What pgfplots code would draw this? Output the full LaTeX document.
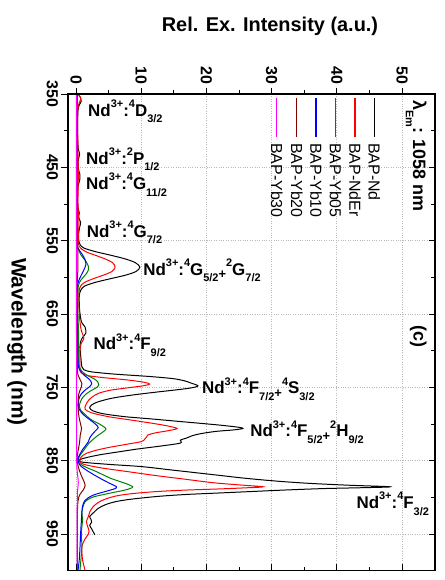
\documentclass[border=0pt]{standalone}
\usepackage{pgfplots}
\pgfplotsset{compat=1.18}
\usepackage{pgfplotstable}
\usepackage{fontspec}
\setmainfont{Liberation Sans}

\definecolor{cNd}{RGB}{0,0,0}
\definecolor{cNdEr}{RGB}{255,0,0}
\definecolor{cYbA}{RGB}{0,128,0}
\definecolor{cYbB}{RGB}{0,0,255}
\definecolor{cYbC}{RGB}{128,0,0}
\definecolor{cYbD}{RGB}{255,0,255}
\definecolor{gridgray}{RGB}{185,185,185}

% excitation spectra: wavelength (nm), relative intensity
\pgfplotstableread{
wl I
350 0.3
355 0.7
360 0.8
365 0.5
372 0.3
390 0.25
410 0.25
425 0.35
432 0.55
440 0.35
452 0.35
460 0.6
468 0.55
476 0.3
490 0.25
505 0.3
512 0.5
518 0.4
525 0.7
532 0.55
540 0.4
548 0.4
555 0.6
560 1.2
565 3.0
570 5.4
575 7.6
580 9.1
586 9.8
592 9.2
597 7.6
602 5.2
607 2.9
612 1.3
618 0.7
625 0.5
635 0.5
645 0.55
655 0.7
662 0.9
668 1.4
676 1.5
682 1.0
688 0.7
695 0.6
705 0.7
715 0.8
722 0.9
726 1.2
729 2.5
732 6
735 11
738 14.8
741 16.6
744 17.6
748 18.7
751 17.5
754 14.8
757 11.8
761 8.2
765 5.4
770 3.3
774 2.4
778 2.1
782 2.6
786 4.2
790 7.5
793 11.5
797 16.5
801 21.5
804 24.6
806 25.6
808 24.2
810 21.5
813 19.2
816 17.8
819 17.0
822 16.0
826 16.0
830 13.0
834 9.5
838 6.5
842 3.6
846 1.5
849 0.5
852 1.0
855 5
858 10
862 14
866 18
870 22
874 26
878 31
881 36
883.5 42
885.6 48.2
886.8 44
888 38
890 32
892 27
894 22
896 17
898 13.5
900 11
903 8
906 6
910 4.5
915 3.4
920 2.8
926 2.1
930 2.3
934 2.4
938 2.1
943 2.4
948 2.7
951 2.9
}\tblNd

\pgfplotstableread{
wl I
350 0.3
355 0.7
360 0.6
368 0.3
390 0.25
430 0.3
460 0.35
500 0.3
525 0.45
545 0.35
558 0.5
565 1.5
570 3.0
575 4.5
580 5.6
586 6.0
592 5.5
597 4.2
602 2.6
607 1.3
612 0.7
620 0.45
640 0.45
660 0.6
672 0.8
683 1.2
690 0.8
700 0.6
715 0.6
725 0.6
730 0.8
734 1.8
737 4.5
740 8.0
743 10.4
745.5 11.3
748 10.2
751 7.6
754 5.2
758 3.5
763 2.5
768 1.9
774 1.5
780 1.4
785 2.5
790 5
794 8
798 11
802 13.7
806 15.5
809 14.2
812 12.2
815 11.0
818 10.8
821 10.5
824 10.0
828 7.5
832 5.0
836 3.0
840 1.6
844 0.9
848 0.6
851 0.6
855 1.2
860 4
865 8
870 12
875 16.5
880 21
883 25
885.6 28.7
887 26
888.5 22
890 17
892 12.5
895 8.5
898 6.2
902 4.6
907 3.4
913 2.6
920 2.1
926 1.9
933 1.6
940 1.8
946 2.0
950 1.9
958 1.3
967 0.9
975 0.9
985 1.0
993 1.2
1000 1.4
}\tblNdEr

\pgfplotstableread{
wl I
350 0.2
400 0.2
450 0.2
500 0.2
550 0.25
560 0.3
570 0.8
578 1.5
585 1.9
590 1.9
596 1.5
603 0.8
610 0.4
620 0.3
650 0.3
680 0.4
700 0.35
715 0.4
722 0.5
728 0.9
733 1.6
738 2.7
742 3.3
746 3.5
750 3.2
754 2.4
758 1.7
763 1.1
769 0.7
776 0.5
781 0.7
787 1.4
794 2.3
800 3.6
804 4.3
807 4.6
811 4.1
816 3.3
821 2.6
826 2.0
832 1.5
838 1.0
843 0.6
848 0.35
852 0.4
856 0.9
860 1.8
864 2.9
869 4.1
874 5.3
878 6.6
882 7.9
885.5 8.7
888 8.3
890.5 7.3
893 5.9
896 4.3
899 2.8
902 2.0
906 1.4
912 1.1
920 0.9
930 1.0
940 0.9
950 0.8
965 0.9
980 0.8
1000 0.6
}\tblYbA

\pgfplotstableread{
wl I
350 0.1
450 0.1
550 0.15
560 0.3
568 0.9
576 1.4
583 1.5
590 1.2
597 0.8
605 0.4
615 0.2
650 0.2
700 0.25
720 0.35
727 0.6
733 1.2
738 1.9
742 2.3
745 2.4
749 2.1
753 1.5
758 0.9
764 0.5
772 0.35
778 0.4
784 0.8
790 1.5
796 2.4
801 3.1
805 3.4
809 3.0
814 2.5
819 2.1
824 1.9
829 1.5
835 1.0
841 0.6
847 0.3
852 0.35
857 0.7
863 1.6
869 2.7
875 3.9
881 5.2
885.5 6.2
888 6.0
890 5.3
892.5 4.3
895 3.3
897.5 2.5
901 1.8
905 1.3
912 1.0
920 0.9
935 0.8
950 0.7
970 0.6
985 0.5
1000 0.3
}\tblYbB

\pgfplotstableread{
wl I
350 0.15
500 0.15
580 0.3
620 0.15
720 0.2
735 0.4
745 0.9
752 0.7
760 0.4
775 0.3
790 0.45
800 0.7
806 0.85
815 0.65
825 0.55
835 0.35
848 0.15
860 0.4
870 0.8
878 1.2
884 1.4
890 1.1
896 0.6
905 0.3
930 0.2
1000 0.2
}\tblYbC

\pgfplotstableread{
wl I
350 0.05
600 0.05
750 0.1
850 0.1
880 0.35
900 0.2
1000 0.15
}\tblYbD

\pgfplotsset{
  frame/.style={
    scale only axis, width=367bp, height=476.7bp,
    xmin=-1.23, xmax=55.06, ymin=350, ymax=1000,
    y dir=reverse,
    axis line style={line width=1.1pt},
    xtick={0,10,...,50}, minor x tick num=1,
    ytick={350,450,...,950}, minor y tick num=1,
    major tick length=6.5bp, minor tick length=4bp,
    every tick/.style={black, line width=0.9pt},
  },
}

\newcommand{\ticklabelfont}{\bfseries\fontsize{16}{19}\selectfont}
\newcommand{\annofont}{\bfseries\fontsize{17}{20}\selectfont}
\newcommand{\legfont}{\fontsize{16}{19}\selectfont}
% term symbols: raised and lowered small indices
\newcommand{\up}[1]{\raisebox{0.5em}{\fontsize{11}{11}\selectfont #1}}
\newcommand{\dn}[1]{\raisebox{-0.4em}{\fontsize{11}{11}\selectfont #1}}
\newcommand{\pl}{\raisebox{-0.22em}{\fontsize{13}{13}\selectfont +}}

\begin{document}
\begin{tikzpicture}
\begin{axis}[
  frame, name=main,
  clip=false,
  tick align=outside,
  xtick pos=upper, xticklabel pos=upper,
  ytick pos=left,
  grid=major,
  major grid style={dotted, gridgray, line width=0.7pt},
  /pgf/number format/assume math mode=true,
  xticklabel style={rotate=-90, anchor=east, font=\ticklabelfont},
  yticklabel style={rotate=-90, anchor=north, font=\ticklabelfont},
]
\addplot[cNd, line width=1pt, smooth, tension=0.5] table[x=I, y=wl] {\tblNd};
\addplot[cNdEr, line width=1pt, smooth, tension=0.5] table[x=I, y=wl] {\tblNdEr};
\addplot[cYbA, line width=1pt, smooth, tension=0.5] table[x=I, y=wl] {\tblYbA};
\addplot[cYbB, line width=1pt, smooth, tension=0.5] table[x=I, y=wl] {\tblYbB};
\addplot[cYbC, line width=1pt, smooth, tension=0.5] table[x=I, y=wl] {\tblYbC};
\addplot[cYbD, line width=1pt, smooth, tension=0.5] table[x=I, y=wl] {\tblYbD};

% axis titles
\node[font=\bfseries\fontsize{20}{24}\selectfont] at (axis cs:29.75,257.3) {Rel. Ex. Intensity (a.u.)};
\node[font=\bfseries\fontsize{21}{24}\selectfont, rotate=-90] at (axis cs:-9.05,688) {Wavelength (nm)};

% transition labels
\node[font=\annofont, anchor=base west, inner sep=0pt] at (axis cs:1.84,380) {Nd\up{3+}:\up{4}D\dn{3/2}};
\node[font=\annofont, anchor=base west, inner sep=0pt] at (axis cs:1.53,445.5) {Nd\up{3+}:\up{2}P\dn{1/2}};
\node[font=\annofont, anchor=base west, inner sep=0pt] at (axis cs:1.53,480) {Nd\up{3+}:\up{4}G\dn{11/2}};
\node[font=\annofont, anchor=base west, inner sep=0pt] at (axis cs:1.64,545) {Nd\up{3+}:\up{4}G\dn{7/2}};
\node[font=\annofont, anchor=base west, inner sep=0pt] at (axis cs:10.3,597) {Nd\up{3+}:\up{4}G\dn{5/2}\pl\up{2}G\dn{7/2}};
\node[font=\annofont, anchor=base west, inner sep=0pt] at (axis cs:2.66,699) {Nd\up{3+}:\up{4}F\dn{9/2}};
\node[font=\annofont, anchor=base west, inner sep=0pt] at (axis cs:19.3,758.5) {Nd\up{3+}:\up{4}F\dn{7/2}\pl\up{4}S\dn{3/2}};
\node[font=\annofont, anchor=base west, inner sep=0pt] at (axis cs:26.7,817.5) {Nd\up{3+}:\up{4}F\dn{5/2}\pl\up{2}H\dn{9/2}};
\node[font=\annofont, anchor=base west, inner sep=0pt] at (axis cs:43.0,915) {Nd\up{3+}:\up{4}F\dn{3/2}};

% emission wavelength and panel tag
\node[font=\bfseries\fontsize{18}{21}\selectfont, rotate=-90, anchor=base west, inner sep=0pt] at (axis cs:51.7,358) {λ\dn{Em}: 1058 nm};
\node[font=\bfseries\fontsize{18}{21}\selectfont, rotate=-90, anchor=base west, inner sep=0pt] at (axis cs:51.8,665) {(c)};

% legend
\draw[cNd, line width=1.2pt] (axis cs:45.75,355.5) -- (axis cs:45.75,408.6);
\node[font=\legfont, rotate=-90, anchor=west, inner sep=0pt] at (axis cs:45.75,416.8) {BAP-Nd};
\draw[cNdEr, line width=1.2pt] (axis cs:42.8,355.5) -- (axis cs:42.8,408.6);
\node[font=\legfont, rotate=-90, anchor=west, inner sep=0pt] at (axis cs:42.8,416.8) {BAP-NdEr};
\draw[cYbA, line width=1.2pt] (axis cs:39.8,355.5) -- (axis cs:39.8,408.6);
\node[font=\legfont, rotate=-90, anchor=west, inner sep=0pt] at (axis cs:39.8,416.8) {BAP-Yb05};
\draw[cYbB, line width=1.2pt] (axis cs:36.8,355.5) -- (axis cs:36.8,408.6);
\node[font=\legfont, rotate=-90, anchor=west, inner sep=0pt] at (axis cs:36.8,416.8) {BAP-Yb10};
\draw[cYbC, line width=1.2pt] (axis cs:33.85,355.5) -- (axis cs:33.85,408.6);
\node[font=\legfont, rotate=-90, anchor=west, inner sep=0pt] at (axis cs:33.85,416.8) {BAP-Yb20};
\draw[cYbD, line width=1.2pt] (axis cs:30.8,355.5) -- (axis cs:30.8,408.6);
\node[font=\legfont, rotate=-90, anchor=west, inner sep=0pt] at (axis cs:30.8,416.8) {BAP-Yb30};
\end{axis}

\begin{axis}[
  frame,
  tick align=inside,
  xtick pos=lower, ytick pos=right,
  xticklabels={}, yticklabels={},
]
\end{axis}

\pgfresetboundingbox
\path[use as bounding box] ([xshift=-68bp,yshift=-9.3bp]main.south west) rectangle ([xshift=10bp,yshift=94bp]main.north east);
\end{tikzpicture}
\end{document}
